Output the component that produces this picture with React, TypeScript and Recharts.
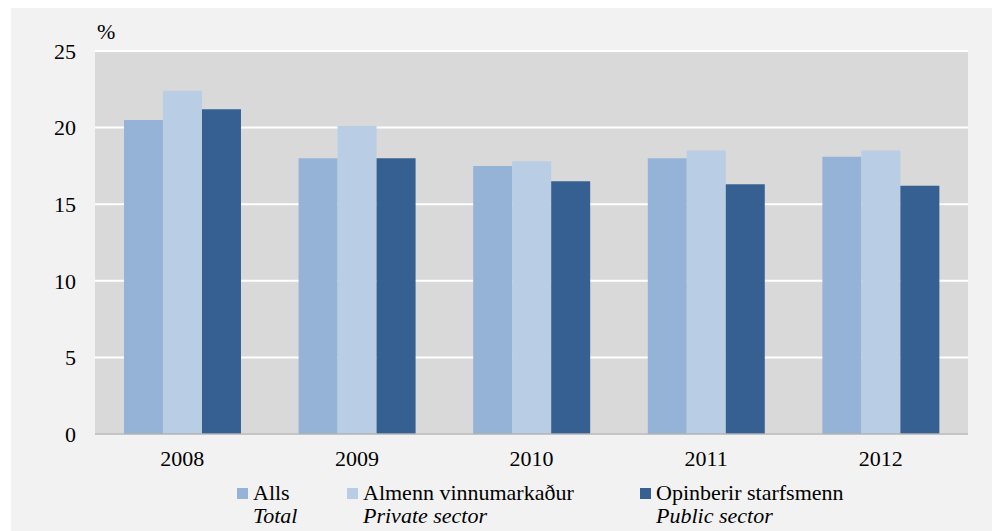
import React from 'react';
import { BarChart, Bar, XAxis, YAxis, CartesianGrid, Legend } from 'recharts';

const years = ['2008', '2009', '2010', '2011', '2012'];
const total = [20.5, 18.0, 17.5, 18.0, 18.1];
const privateSector = [22.4, 20.1, 17.8, 18.5, 18.5];
const publicSector = [21.2, 18.0, 16.5, 16.3, 16.2];
const yTicks = [0, 5, 10, 15, 20, 25];

const series = [
  { key: 'total', name: 'Alls', en: 'Total', color: '#95b3d7', width: 110 },
  { key: 'private', name: 'Almenn vinnumarkaður', en: 'Private sector', color: '#b9cde5', width: 293 },
  { key: 'public', name: 'Opinberir starfsmenn', en: 'Public sector', color: '#366092', width: 220 },
];

const chartData = years.map((year, i) => ({
  year,
  total: total[i],
  private: privateSector[i],
  public: publicSector[i],
}));

const font = '"Liberation Serif", "Times New Roman", serif';

const renderLegend = () => (
  <div style={{ display: 'flex', paddingLeft: 226, fontFamily: font, fontSize: 22, lineHeight: '23px', color: '#000' }}>
    {series.map(s => (
      <div key={s.key} style={{ width: s.width, display: 'flex', flexShrink: 0 }}>
        <div style={{ width: 11, height: 11, background: s.color, marginTop: 7, marginRight: 5, flexShrink: 0 }} />
        <div style={{ whiteSpace: 'nowrap' }}>
          <div>{s.name}</div>
          <div style={{ fontStyle: 'italic' }}>{s.en}</div>
        </div>
      </div>
    ))}
  </div>
);

const App: React.FC = () => {
  return (
    <div style={{ position: 'relative', marginLeft: 3, width: 984, height: 523, background: '#f2f2f2' }}>
      <div style={{ position: 'absolute', left: 86, top: 11, fontFamily: font, fontSize: 22, lineHeight: 'normal', color: '#000' }}>%</div>
      <BarChart
        width={984}
        height={523}
        data={chartData}
        margin={{ top: 43, right: 27, left: 0, bottom: 4 }}
        barCategoryGap="16.6%"
        barGap={0}
      >
        <CartesianGrid vertical={false} fill="#d9d9d9" stroke="#ffffff" strokeWidth={2} />
        <YAxis
          width={84}
          domain={[0, 25]}
          ticks={yTicks}
          axisLine={false}
          tickLine={false}
          tickMargin={13}
          tick={{ fill: '#000', fontSize: 22, fontFamily: font }}
        />
        <XAxis
          dataKey="year"
          height={47}
          axisLine={{ stroke: '#b0b0b0', strokeWidth: 1.5 }}
          tickLine={false}
          tickMargin={10}
          tick={{ fill: '#000', fontSize: 22, fontFamily: font }}
        />
        <Legend verticalAlign="bottom" content={renderLegend} />
        {series.map(s => (
          <Bar key={s.key} dataKey={s.key} name={s.name} fill={s.color} isAnimationActive={false} />
        ))}
      </BarChart>
    </div>
  );
};

export default App;
